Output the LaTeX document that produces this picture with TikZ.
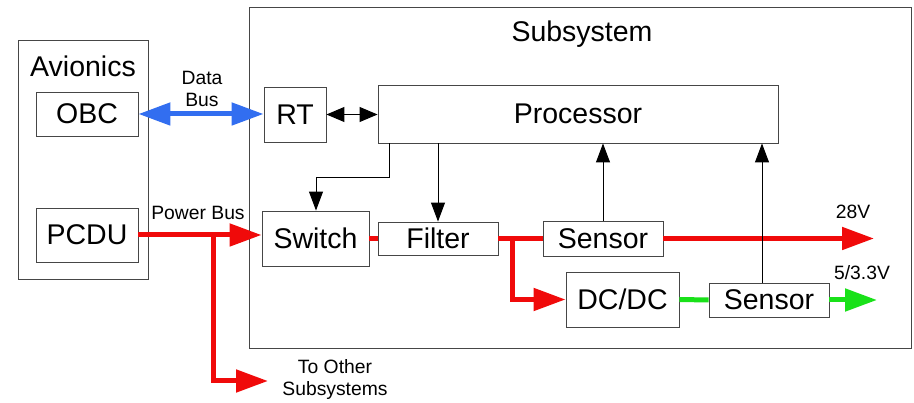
\documentclass[tikz,border=0pt]{standalone}
\usepackage{fontspec}
\setmainfont{Liberation Sans}
\usetikzlibrary{arrows.meta,calc}
\definecolor{boxgray}{RGB}{70,70,70}
\definecolor{pred}{RGB}{240,10,10}
\definecolor{pgreen}{RGB}{25,225,25}
\definecolor{pblue}{RGB}{50,110,240}
\begin{document}
\begin{tikzpicture}[x=1pt,y=-1pt,
  box/.style={draw=boxgray,line width=0.9pt,fill=white,inner sep=0pt,font=\fontsize{28.5}{30}\selectfont},
  big/.style={font=\fontsize{28.5}{30}\selectfont,inner sep=0pt},
  small/.style={font=\fontsize{19.3}{22}\selectfont,inner sep=0pt,align=center},
  redline/.style={draw=pred,line width=5pt},
  greenline/.style={draw=pgreen,line width=5pt},
  bigtip/.style={-{Triangle[length=32pt,width=22pt]}},
  blk/.style={draw=black,line width=1pt,-{Triangle[length=19pt,width=14pt]}}]
\useasboundingbox (0,0) rectangle (914,403);
% containers
\node[box,minimum width=130pt,minimum height=239pt] (avion) at (83,159.5) {};
\node[big] (avtitle) at (83,66) {Avionics};
\node[box,minimum width=662pt,minimum height=341pt] (subsys) at (580,177.5) {};
\node[big] (subtitle) at (582,34) {Subsystem};
% boxes
\node[box,minimum width=102pt,minimum height=44pt] (obc) at (87,114) {OBC};
\node[box,minimum width=102pt,minimum height=54pt] (pcdu) at (87,235) {PCDU};
\node[box,minimum width=62pt,minimum height=55pt] (rt) at (295,114.5) {RT};
\node[box,minimum width=400pt,minimum height=58pt] (proc) at (578,114) {Processor};
\node[box,minimum width=107pt,minimum height=55pt] (switch) at (315.5,238.5) {Switch};
\node[box,minimum width=120pt,minimum height=33pt] (filter) at (438,238.5) {Filter};
\node[box,minimum width=120pt,minimum height=35pt] (sens1) at (603,238.5) {Sensor};
\node[box,minimum width=113pt,minimum height=55pt] (dcdc) at (622.5,299.5) {DC/DC};
\node[box,minimum width=120pt,minimum height=34pt] (sens2) at (769,300) {Sensor};
% labels
\node[small] (databus) at (202,89) {Data\\Bus};
\node[small] (powerbus) at (198,213) {Power Bus};
\node[small] (other) at (335,380) {To Other\\Subsystems};
\node[small] (v28) at (853,212) {28V};
\node[small] (v5) at (862,273) {5/3.3V};
% coordinates
\coordinate (j1) at (213,235);
\coordinate (othtip) at (268,381);
\coordinate (j2) at (512,238.5);
\coordinate (tip28) at (874,238.5);
\coordinate (tip5) at (877,300);
% data bus
\draw[draw=pblue,line width=5pt,{Triangle[length=32pt,width=22pt]}-{Triangle[length=32pt,width=22pt]}] (obc.east) -- (rt.west |- obc.east);
% power
\draw[redline,bigtip] (pcdu.east) -- (switch.west |- pcdu.east);
\draw[redline,bigtip] (j1) -- (j1 |- othtip) -- (othtip);
\draw[redline] (switch.east) -- (filter.west);
\draw[redline] (filter.east) -- (sens1.west);
\draw[redline,bigtip] (sens1.east) -- (tip28);
\draw[redline,bigtip] (j2) -- (j2 |- dcdc.west) -- (dcdc.west);
\draw[greenline] (dcdc.east) -- (sens2.west);
\draw[greenline,bigtip] (sens2.east) -- (tip5);
% control
\draw[draw=black,line width=1pt,{Triangle[length=18pt,width=15pt]}-{Triangle[length=18pt,width=15pt]}] (rt.east) -- (proc.west |- rt.east);
\draw[blk] ([xshift=12pt]proc.south west) -- ++(0,34) -| ([xshift=0.5pt]switch.north);
\draw[blk] (proc.south -| filter.north) -- (filter.north);
\draw[blk] (sens1.north) -- (proc.south -| sens1.north);
\draw[blk] ([xshift=-7pt]sens2.north) coordinate (s2t) -- (s2t |- proc.south);
\end{tikzpicture}
\end{document}
